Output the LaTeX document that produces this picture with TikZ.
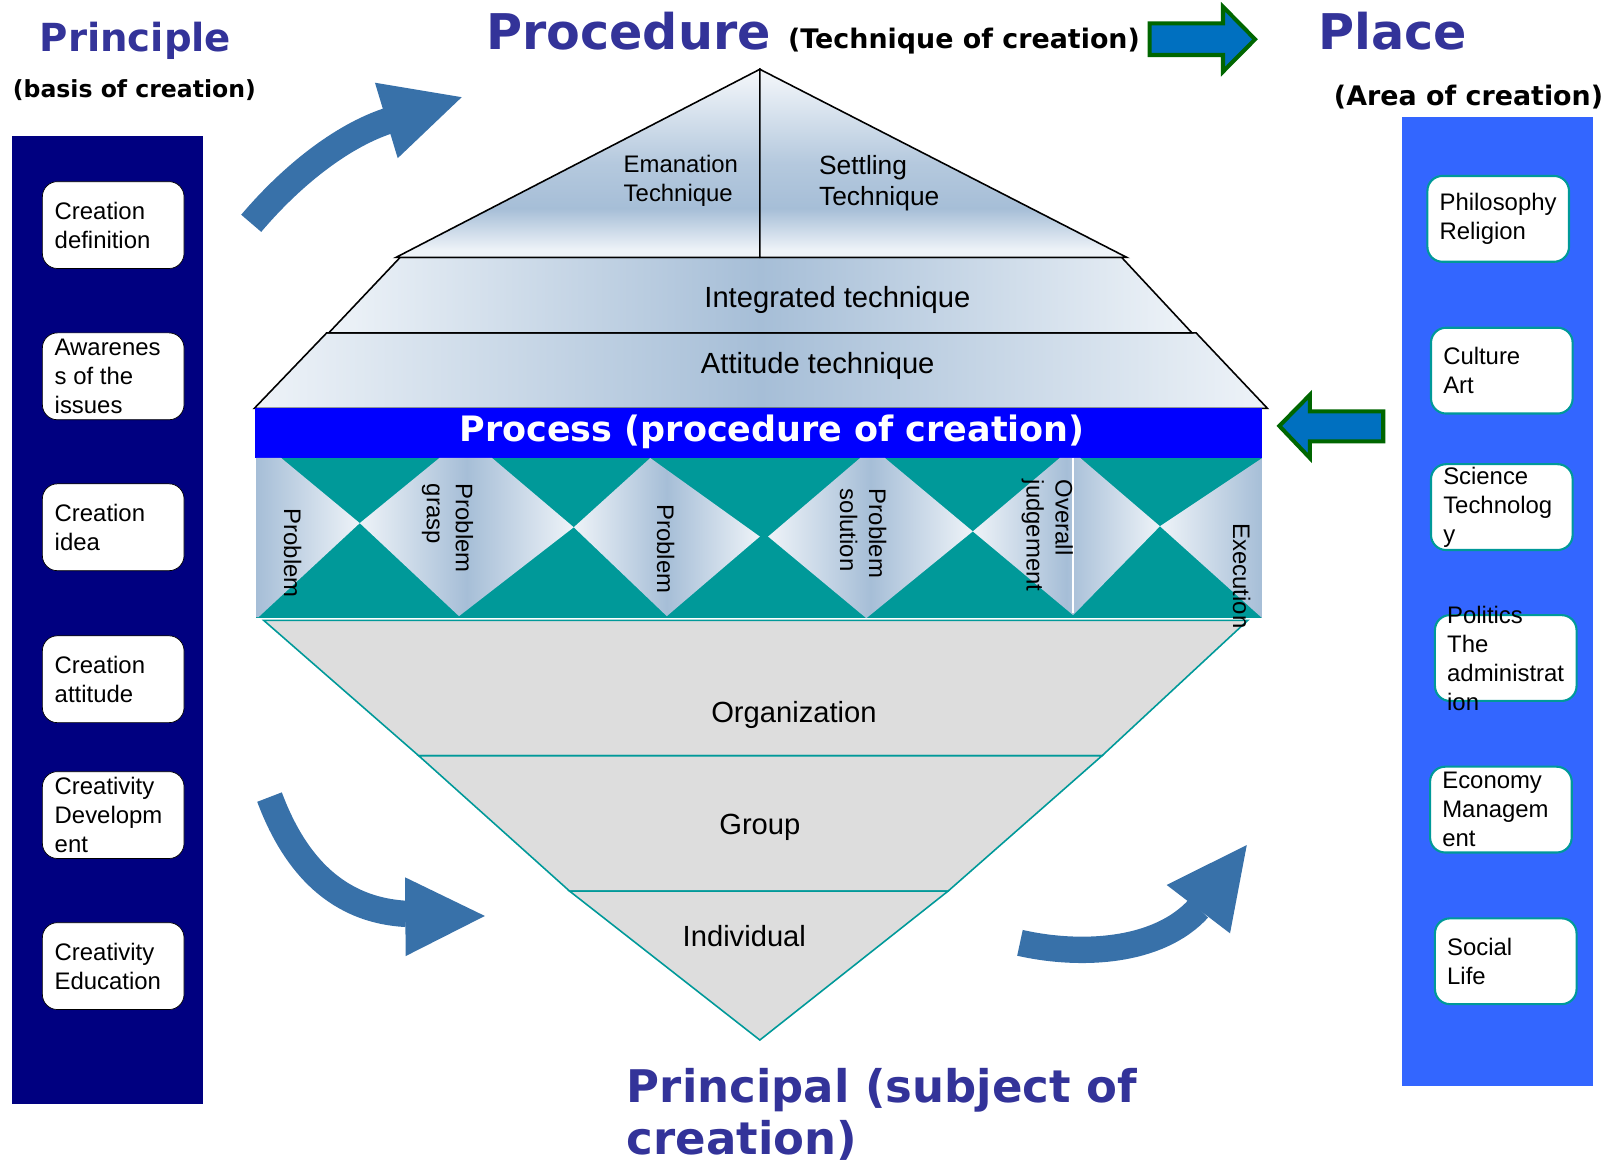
\documentclass[tikz,border=0pt]{standalone}
\usepackage{fontspec}
\setmainfont{Liberation Sans}
\newfontfamily\headfont{DejaVu Sans}
\usepackage{tikz}
\usetikzlibrary{calc}

\definecolor{navy}{HTML}{000080}
\definecolor{areablue}{HTML}{3366FF}
\definecolor{headblue}{HTML}{333399}
\definecolor{bendblue}{HTML}{3871A9}
\definecolor{fatblue}{HTML}{0070C0}
\definecolor{fatgreen}{HTML}{006600}
\definecolor{procblue}{HTML}{0000FF}
\definecolor{bandteal}{HTML}{009999}
\definecolor{steel}{HTML}{A6BED7}
\definecolor{pale}{HTML}{EEF3F8}
\definecolor{orggrey}{HTML}{DDDDDD}
\colorlet{pyrtop}{pale!60!white}
\colorlet{pyrmid}{steel!80!pale}

\pgfdeclareverticalshading{pyrshade}{100bp}{color(0bp)=(pale); color(27bp)=(pale);
  color(38bp)=(steel); color(50bp)=(pyrmid); color(75bp)=(pyrtop); color(100bp)=(pyrtop)}

\tikzset{
  leftbox/.style={fill=white, rounded corners=0.3cm},
  rightbox/.style={fill=white, draw=bandteal, line width=1.2pt, rounded corners=0.3cm},
  boxtext/.style={anchor=west, align=left, inner sep=0pt, font=\fontsize{13.6}{16.5}\selectfont},
  steptext/.style={rotate=-90, align=left, inner sep=0pt, font=\fontsize{13.6}{16.5}\selectfont},
  layertext/.style={inner sep=0pt, font=\fontsize{16.6}{20}\selectfont},
  titletext/.style={inner sep=0pt, text=headblue},
  subtext/.style={inner sep=0pt, font=\headfont\bfseries\fontsize{15.3}{18}\selectfont},
  stepshade/.style={left color=pale, right color=pale, middle color=steel},
  bendshaft/.style={draw=bendblue, line width=15pt},
  fatarrow/.style={fill=fatblue, draw=fatgreen, line width=2.3pt},
  layer/.style={fill=orggrey, draw=bandteal, line width=0.9pt}
}

\begin{document}
\begin{tikzpicture}[x=0.020676cm, y=-0.020676cm]

    \useasboundingbox (0,0) rectangle (1568,1127);

    % principle column
    \fill[navy] (11.3,131.6) rectangle (196,1068);
    \foreach \ty/\txt [count=\i] in {175.7/{Creation\\definition}, 322/{Awarenes\\s of the\\issues},
        468/{Creation\\idea}, 615/{Creation\\attitude}, 746.4/{Creativity\\Developm\\ent},
        892.5/{Creativity\\Education}} {
        \draw[leftbox] (41,\ty) rectangle ++(137,84);
        \node[boxtext] (p\i) at (52.6,\ty+42) {\txt};
    }

    % place column
    \fill[areablue] (1355.8,113.5) rectangle (1541,1050);
    \foreach \bx/\ty/\txt [count=\i] in {1380.7/170.2/{Philosophy\\Religion}, 1384.2/317/{Culture\\Art},
        1384.2/449/{Science\\Technolog\\y}, 1388/595/{Politics\\The\\administrat\\ion},
        1383.3/741.6/{Economy\\Managem\\ent}, 1388/888.3/{Social\\Life}} {
        \draw[rightbox] (\bx,\ty) rectangle ++(137,83);
        \node[boxtext] (a\i) at (\bx+11.5,\ty+41.5) {\txt};
    }

    % titles
    \node[titletext, anchor=base, font=\headfont\bfseries\fontsize{22}{26}\selectfont] (principle) at (131,50) {Principle};
    \node[subtext, anchor=base, font=\headfont\bfseries\fontsize{13.4}{16}\selectfont] (basis) at (130,94) {(basis of creation)};
    \node[titletext, anchor=base west, font=\headfont\bfseries\fontsize{28}{33}\selectfont] (procedure) at (470,48) {Procedure};
    \node[subtext, anchor=base west] (technique) at (762,47) {(Technique of creation)};
    \node[titletext, anchor=base west, font=\headfont\bfseries\fontsize{28}{33}\selectfont] (place) at (1275,48) {Place};
    \node[subtext, anchor=base west] (area) at (1290,102) {(Area of creation)};
    \node[titletext, anchor=north west, align=left, font=\headfont\bfseries\fontsize{25.6}{29.4}\selectfont] (principal) at (606,1033) {Principal (subject of\\creation)};

    % block arrows
    \draw[fatarrow] (1112,22.6) -- (1183,22.6) -- (1183,6.5) -- (1214,38) -- (1183,69.3) -- (1183,53.2) -- (1112,53.2) -- cycle;
    \draw[fatarrow] (1237.5,412) -- (1267,382) -- (1267,398) -- (1338,398) -- (1338,427) -- (1267,427) -- (1267,443) -- cycle;

    % curved arrows
    \draw[bendshaft] (243,216) .. controls (282,170) and (330,132) .. (375,117);
    \fill[bendblue] (362.7,80) -- (446.6,94) -- (384.7,153) -- cycle;
    \draw[bendshaft] (260.7,771) .. controls (282,828) and (320,880) .. (393,884);
    \fill[bendblue] (391.8,848.6) -- (469,886) -- (392.4,924.8) -- cycle;
    \draw[bendshaft] (986.6,912) .. controls (1044,925) and (1120,922) .. (1159.4,878.7);
    \fill[bendblue] (1128.5,856) -- (1206,817.4) -- (1189.8,902.8) -- cycle;

    % technique pyramid
    \shadedraw[left color=pale, right color=pale, middle color=steel, draw=black, line width=0.9pt]
        (316,322) -- (1157,322) -- (1226,395) -- (246,395) -- cycle;
    \shadedraw[left color=pale, right color=pale, middle color=steel, draw=black, line width=0.9pt]
        (387,249) -- (1085,249) -- (1153,322) -- (318,322) -- cycle;
    \shadedraw[shading=pyrshade, draw=black, line width=0.9pt] (383,249) -- (735,67) -- (735,249) -- cycle;
    \shadedraw[shading=pyrshade, draw=black, line width=0.9pt] (735,67) -- (1090,249) -- (735,249) -- cycle;

    \node[boxtext] (emanation) at (603,175) {Emanation\\Technique};
    \node[boxtext, font=\fontsize{15}{17.6}\selectfont] (settling) at (792,177) {Settling\\Technique};
    \node[layertext] (integrated) at (810,290) {Integrated technique};
    \node[layertext] (attitude) at (791,354) {Attitude technique};

    % process band
    \fill[procblue] (247,395) rectangle (1221,443);
    \node[inner sep=0pt, text=white, font=\headfont\bfseries\fontsize{19.9}{24}\selectfont] (process) at (747,418) {Process (procedure of creation)};

    % steps
    \fill[bandteal] (248,443) rectangle (1221,598);
    \shade[left color=steel, right color=pale] (248,443) -- (272,443) -- (348,506) -- (250,597) -- (248,597) -- cycle;
    \shade[stepshade] (348,506) -- (425,443) -- (476,443) -- (555,510) -- (444,596) -- cycle;
    \shade[stepshade] (555,510) -- (629,443) -- (735,519) -- (645,596) -- cycle;
    \shade[stepshade] (743,519) -- (832,443) -- (856,443) -- (941,514) -- (838,598) -- cycle;
    \shade[stepshade] (941,514) -- (1025,443) -- (1045,443) -- (1122,509) -- (1038,595) -- cycle;
    \draw[white, line width=0.8pt] (1038,443) -- (1038,593);
    \shade[left color=pale, right color=steel] (1122,509) -- (1221,443) -- (1221,598) -- cycle;

    \node[steptext] (s1) at (283,535) {Problem};
    \node[steptext] (s2) at (433,511) {Problem\\grasp};
    \node[steptext] (s3) at (644,531) {Problem};
    \node[steptext] (s4) at (835,516) {Problem\\solution};
    \node[steptext] (s5) at (1013,518) {Overall\\judgement};

    % principal layers
    \draw[layer] (255,600) -- (1207,600) -- (1066,731) -- (405,731) -- cycle;
    \draw[layer] (405,731) -- (1066,731) -- (917,862) -- (551,862) -- cycle;
    \draw[layer] (551,862) -- (917,862) -- (735,1006) -- cycle;

    \node[steptext] (s6) at (1201,557) {Execution};
    \node[layertext] (organization) at (768,692) {Organization};
    \node[layertext] (group) at (735,800) {Group};
    \node[layertext] (individual) at (720,905) {Individual};

\end{tikzpicture}
\end{document}
